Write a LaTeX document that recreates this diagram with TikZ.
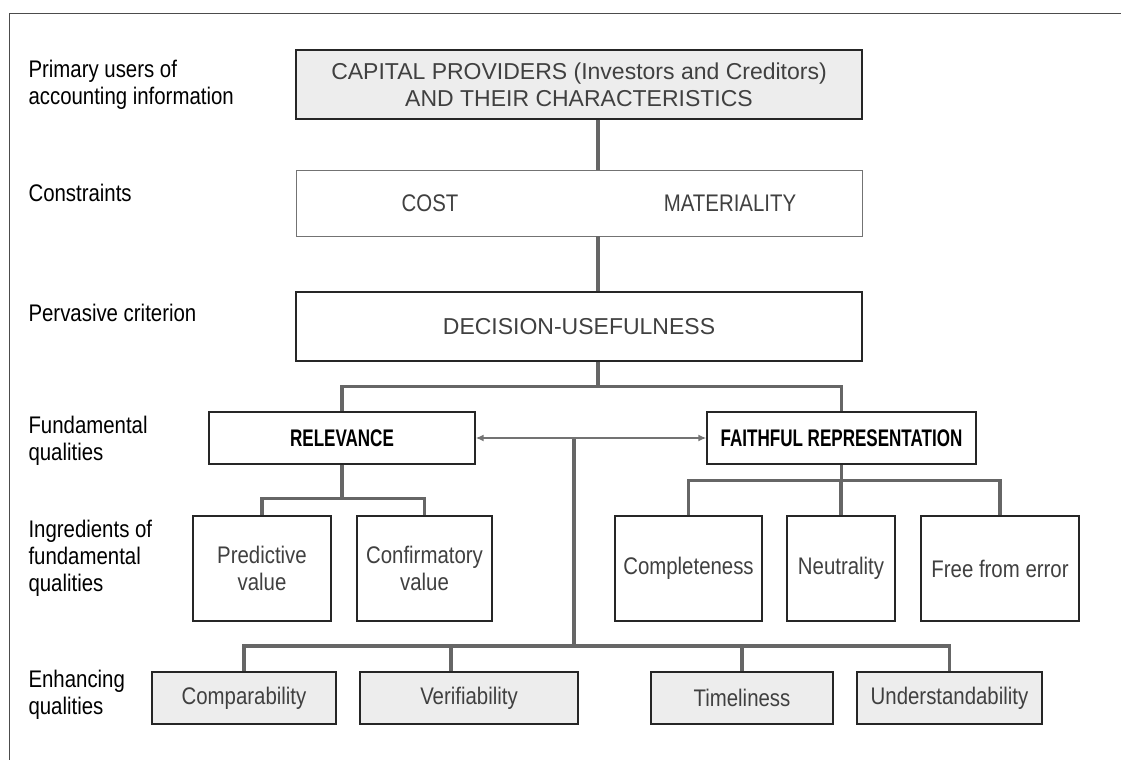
\documentclass[tikz,border=0pt]{standalone}
\usepackage{fontspec}
\setmainfont{Liberation Sans}[FakeStretch=0.85]
\newfontfamily\widesans{Liberation Sans}
\newfontfamily\narrowsans{Liberation Sans}[FakeStretch=0.71]
\usetikzlibrary{arrows.meta}

\begin{document}
\begin{tikzpicture}[x=1pt,y=-1pt,
	box/.style={draw=black!85,line width=1.3pt,fill=white,inner sep=0pt,text=black!75,align=center,font=\fontsize{24}{27}\selectfont},
	shaded/.style={box,fill=black!7},
	caps/.style={font=\widesans\fontsize{23}{27}\selectfont},
	head/.style={box,text=black,font=\narrowsans\bfseries\fontsize{24}{27}\selectfont},
	side/.style={anchor=west,align=left,text=black,font=\fontsize{24}{27}\selectfont},
	link/.style={draw=black!60,line width=3.5pt},
	twoway/.style={draw=black!55,line width=1.8pt,{Latex[length=8pt,width=7pt]}-{Latex[length=8pt,width=7pt]}}]
		\useasboundingbox (0,0) rectangle (1121,760);
		\draw [black!70,line width=0.8pt] (1121,13) -- (9,13) -- (9,760);

		% levels on the left
		\node [side] (lusers) at (25,85) {Primary users of\\accounting information};
		\node [side] (lcons) at (25,193) {Constraints};
		\node [side] (lperv) at (25,313) {Pervasive criterion};
		\node [side] (lfund) at (25,441) {Fundamental\\qualities};
		\node [side] (lingr) at (25,558) {Ingredients of\\fundamental\\qualities};
		\node [side] (lenh) at (25,695) {Enhancing\\qualities};

		% top of the hierarchy
		\node [shaded,caps,minimum width=566,minimum height=69] (cap) at (579,84.5) {CAPITAL PROVIDERS (Investors and Creditors)\\AND THEIR CHARACTERISTICS};
		\node [box,draw=black!55,line width=0.8pt,minimum width=566,minimum height=66] (con) at (579,203) {};
		\node [text=black!75,font=\fontsize{24}{27}\selectfont] (cost) at (430,203) {COST};
		\node [text=black!75,font=\fontsize{24}{27}\selectfont] (mat) at (730,203) {MATERIALITY};
		\node [box,caps,minimum width=566,minimum height=69] (dec) at (579,326.5) {DECISION-USEFULNESS};

		% fundamental qualities and their ingredients
		\node [head,minimum width=266,minimum height=52] (rel) at (342,438) {RELEVANCE};
		\node [head,minimum width=269,minimum height=52] (fr) at (841.5,438) {FAITHFUL REPRESENTATION};
		\node [box,minimum width=138,minimum height=105] (pred) at (262,568.5) {Predictive\\value};
		\node [box,minimum width=135,minimum height=105] (conf) at (424.5,568.5) {Confirmatory\\value};
		\node [box,minimum width=147,minimum height=105] (comp) at (688.5,568.5) {Completeness};
		\node [box,minimum width=108,minimum height=105] (neu) at (841,568.5) {Neutrality};
		\node [box,minimum width=158,minimum height=105] (free) at (1000,568.5) {Free from error};

		% enhancing qualities
		\node [shaded,minimum width=184,minimum height=52] (cmp) at (244,698) {Comparability};
		\node [shaded,minimum width=218,minimum height=52] (ver) at (469,698) {Verifiability};
		\node [shaded,minimum width=182,minimum height=52] (tim) at (742,698) {Timeliness};
		\node [shaded,minimum width=185,minimum height=52] (und) at (949.5,698) {Understandability};

		\draw [link] ([xshift=19pt]cap.south) -- ([xshift=19pt]con.north);
		\draw [link] ([xshift=19pt]con.south) -- ([xshift=19pt]dec.north);
		\draw [link] ([xshift=19pt]dec.south) -- ++(0,26);
		\draw [link] (rel.north) -- ++(0,-25) -| (fr.north);

		\draw [link] (rel.south) -- ++(0,35);
		\draw [link] (pred.north) -- ++(0,-17) -| (conf.north);
		\draw [link] (fr.south) -- ++(0,17);
		\draw [link] (comp.north) -- ++(0,-35) -| (free.north);
		\draw [link] (neu.north) -- ++(0,-35);

		\coordinate (hub) at (574,439);
		\coordinate (enh) at (574,646);
		\coordinate (verdrop) at ([xshift=-18pt]ver.north);
		\draw [link] (hub) -- (enh);
		\draw [link] (cmp.north) |- (enh) -| (und.north);
		\draw [link] (verdrop) -- (verdrop |- enh);
		\draw [link] (tim.north) -- (tim.north |- enh);
		\draw [twoway] (rel.east) -- (fr.west);
\end{tikzpicture}
\end{document}
